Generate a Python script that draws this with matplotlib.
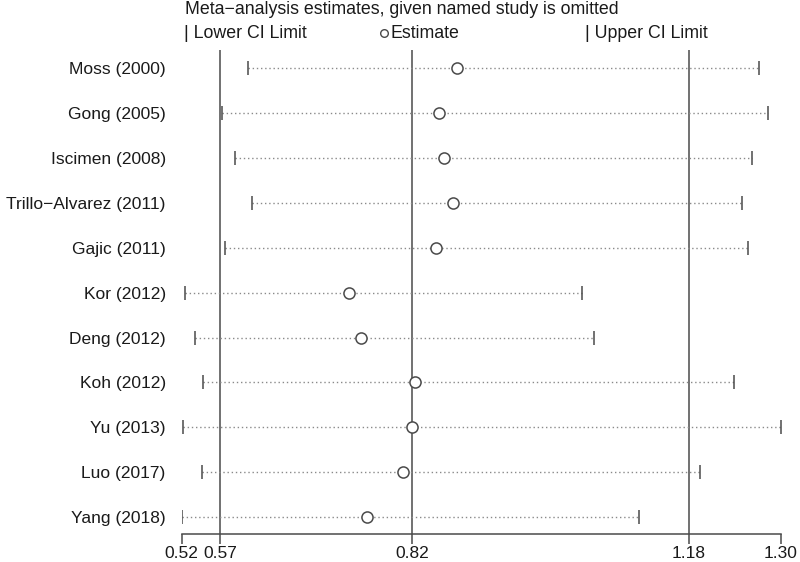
import matplotlib
matplotlib.use('Agg')
import matplotlib.pyplot as plt

plt.rcParams['font.family'] = ['Liberation Sans', 'DejaVu Sans']

studies = ['Moss (2000)', 'Gong (2005)', 'Iscimen (2008)', 'Trillo\u2212Alvarez (2011)',
           'Gajic (2011)', 'Kor (2012)', 'Deng (2012)', 'Koh (2012)', 'Yu (2013)',
           'Luo (2017)', 'Yang (2018)']
estimate = [0.878, 0.855, 0.862, 0.873, 0.851, 0.738, 0.753, 0.824, 0.820, 0.808, 0.761]
lower = [0.606, 0.572, 0.590, 0.611, 0.576, 0.524, 0.537, 0.548, 0.522, 0.546, 0.520]
upper = [1.271, 1.283, 1.262, 1.249, 1.257, 1.041, 1.057, 1.239, 1.300, 1.195, 1.115]

ref_lines = [0.57, 0.82, 1.18]
xticks = [0.52, 0.57, 0.82, 1.18, 1.30]
xtick_labels = ['0.52', '0.57', '0.82', '1.18', '1.30']

line_col = '#4a4a4a'
dot_col = '#8a8a8a'
text_col = '#1a1a1a'

fig = plt.figure(figsize=(8, 5.62), dpi=100)
ax = fig.add_axes([0.227, 0.0504, 0.749, 0.8606])

rows = list(range(len(studies)))

for x in ref_lines:
    ax.axvline(x, color=line_col, lw=1.1, zorder=1)

for y, lo, hi in zip(rows, lower, upper):
    ax.plot([lo, hi], [y, y], color=dot_col, lw=1.0, linestyle=(0, (1, 2)), zorder=2)

ax.plot(lower, rows, linestyle='none', marker='|', ms=9.5, mew=1.1, color=line_col, zorder=3)
ax.plot(upper, rows, linestyle='none', marker='|', ms=9.5, mew=1.1, color=line_col, zorder=3)
ax.plot(estimate, rows, linestyle='none', marker='o', ms=8.0, mew=1.1,
        mec=line_col, mfc='white', zorder=4)

ax.set_xlim(0.52, 1.30)
ax.set_ylim(len(studies) - 1 + 0.37, -0.41)

ax.set_yticks(rows)
ax.set_yticklabels(studies, fontsize=12.5, color=text_col)
ax.tick_params(axis='y', length=0, pad=11.5)

ax.set_xticks(xticks)
ax.set_xticklabels(xtick_labels, fontsize=12.5, color=text_col)
ax.tick_params(axis='x', direction='out', length=7.2, width=1.1, color=line_col, pad=1.5)

for side in ['top', 'right', 'left']:
    ax.spines[side].set_visible(False)
ax.spines['bottom'].set_color(line_col)
ax.spines['bottom'].set_linewidth(1.1)

# header text
fig.text(0.231, 0.983, 'Meta\u2212analysis estimates, given named study is omitted',
         fontsize=12.8, va='center', ha='left', color=text_col)
fig.text(0.230, 0.941, '| Lower CI Limit', fontsize=12.8, va='center', ha='left', color=text_col)
fig.text(0.731, 0.941, '| Upper CI Limit', fontsize=12.8, va='center', ha='left', color=text_col)
fig.text(0.4875, 0.941, 'Estimate', fontsize=12.8, va='center', ha='left', color=text_col)
fig.add_artist(plt.Line2D([0.4805], [0.941], transform=fig.transFigure, marker='o', ms=5.5,
                          mew=1.0, mec=line_col, mfc='white', linestyle='none'))

fig.savefig('out.png', dpi=100)
